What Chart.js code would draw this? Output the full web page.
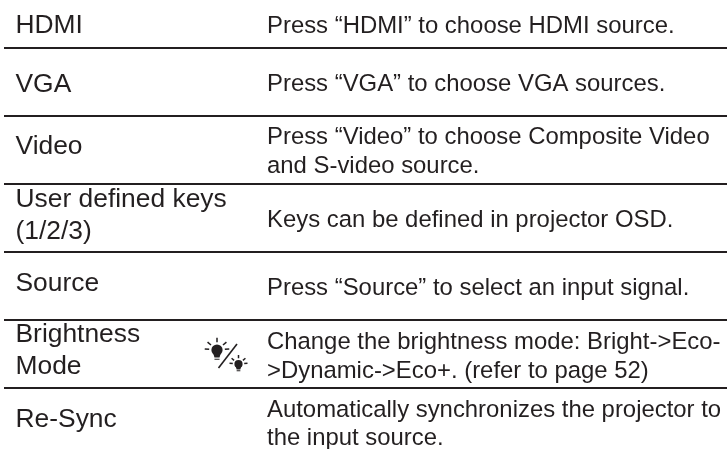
<!DOCTYPE html>
<html><head><meta charset="utf-8">
<style>html,body{margin:0;padding:0;background:#fff}canvas{display:block}</style>
<script src="https://cdn.jsdelivr.net/npm/chart.js@4"></script>
</head><body><canvas id="c" width="727" height="449"></canvas>
<script>
const categories = ["HDMI","VGA","Video","User defined keys","(1/2/3)","Source","Brightness","Mode","Re-Sync"];
const descriptions = ["Press “HDMI” to choose HDMI source.","Press “VGA” to choose VGA sources.","Press “Video” to choose Composite Video","and S-video source.","Keys can be defined in projector OSD.","Press “Source” to select an input signal.","Change the brightness mode: Bright->Eco-",">Dynamic->Eco+. (refer to page 52)","Automatically synchronizes the projector to","the input source."];
const rowRules = [48,116,184,252,320,388];
// layout (pixels on the page-sized scales)
const categoryBaselines = [33,92,154,207,239,291,342,374,427];
const descriptionBaselines = [33,91,144,173,227,295,349,378,417,445];
const COL1 = 15.5, COL2 = 267, RULE_L = 4, RULE_R = 727;
const INK = '#231f20';
const textPlugin = {
  id:'tableText',
  afterDatasetsDraw(chart){
    const {ctx,scales:{x,y}} = chart;
    ctx.save();
    ctx.fillStyle = INK; ctx.textBaseline='alphabetic'; ctx.textAlign='left';
    ctx.font = '26.4px "Liberation Sans"';
    categories.forEach((t,i)=>ctx.fillText(t,x.getPixelForValue(COL1),y.getPixelForValue(categoryBaselines[i])));
    ctx.font = '23.9px "Liberation Sans"';
    descriptions.forEach((t,i)=>ctx.fillText(t,x.getPixelForValue(COL2),y.getPixelForValue(descriptionBaselines[i])));
    // brightness icon
    const bulb=(cx,cy,r)=>{
      ctx.fillStyle=INK; ctx.strokeStyle=INK;
      ctx.beginPath();ctx.arc(cx,cy,r,0,Math.PI*2);ctx.fill();
      ctx.beginPath();ctx.moveTo(cx-r*.7,cy+r*.5);ctx.lineTo(cx+r*.7,cy+r*.5);ctx.lineTo(cx+r*.45,cy+r*1.35);ctx.lineTo(cx-r*.45,cy+r*1.35);ctx.closePath();ctx.fill();
      ctx.lineWidth=1.5;
      for(const a of [-90,-40,-140,-5,-175]){const s=a*Math.PI/180;
        ctx.beginPath();ctx.moveTo(cx+Math.cos(s)*r*1.4,cy+Math.sin(s)*r*1.4);ctx.lineTo(cx+Math.cos(s)*r*2.2,cy+Math.sin(s)*r*2.2);ctx.stroke();}
      ctx.lineWidth=1;
      ctx.beginPath();ctx.moveTo(cx-r*.45,cy+r*1.65);ctx.lineTo(cx+r*.45,cy+r*1.65);ctx.stroke();
    };
    bulb(217,350,5.6); bulb(238.5,364,4.1);
    ctx.strokeStyle=INK;ctx.lineWidth=1.6;ctx.beginPath();ctx.moveTo(237,344);ctx.lineTo(218.5,368);ctx.stroke();
    ctx.restore();
  }
};
new Chart(document.getElementById('c'),{
  type:'scatter',
  data:{datasets:rowRules.map(r=>({data:[{x:RULE_L,y:r},{x:RULE_R,y:r}],showLine:true,borderColor:INK,borderWidth:2,pointRadius:0}))},
  options:{responsive:false,animation:false,events:[],layout:{padding:0},
    plugins:{legend:{display:false},tooltip:{enabled:false}},
    scales:{x:{type:'linear',min:0,max:727,display:false},y:{type:'linear',min:0,max:449,reverse:true,display:false}}},
  plugins:[textPlugin]
});
</script></body></html>
